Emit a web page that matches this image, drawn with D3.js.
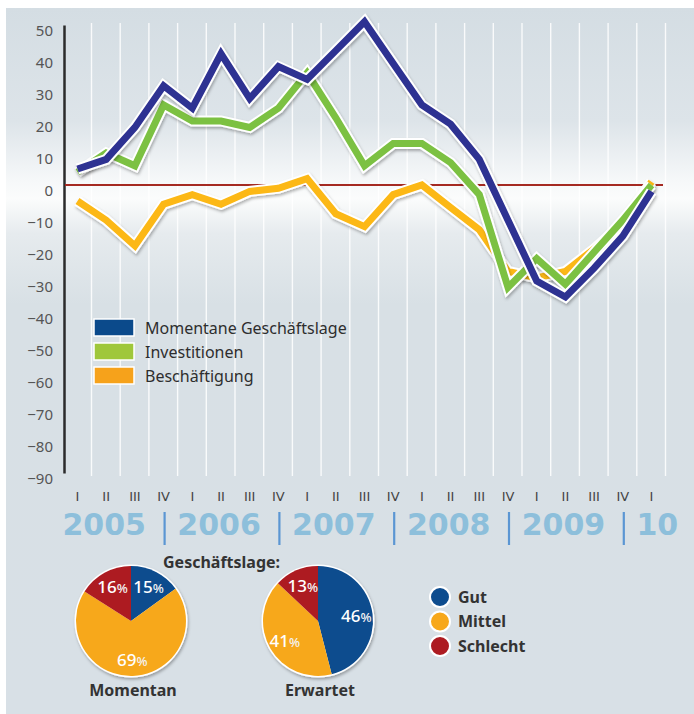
<!DOCTYPE html>
<html lang="de">
<head>
<meta charset="UTF-8">
<title>Geschäftslage</title>
<script src="https://d3js.org/d3.v7.min.js"></script>
<style>
  body { margin: 0; background: #fff; }
  svg { display: block; font-family: "Noto Sans", sans-serif; }
</style>
</head>
<body>
<script>
  // --- data ---
  var quarters = ["I","II","III","IV","I","II","III","IV","I","II","III","IV","I","II","III","IV","I","II","III","IV","I"];
  var years = ["2005","2006","2007","2008","2009","10"];
  var yTicks = [50,40,30,20,10,0,-10,-20,-30,-40,-50,-60,-70,-80,-90];
  var momentane = [5,8,18,31,24,41,27,37,33,42,51,38,25,19,8,-11,-30,-35,-26,-16,-2];
  var investitionen = [4,10,6,25,20,20,18,24,35,21,6,13,13,7,-3,-32,-23,-31,-21,-11,0];
  var beschaeftigung = [-5,-11,-19,-6,-3,-6,-2,-1,2,-9,-13,-3,0,-7,-14,-27,-29,-27,-20,-12,1];
  var seriesNames = ["Momentane Geschäftslage","Investitionen","Beschäftigung"];
  var pieCategories = ["Gut","Mittel","Schlecht"];
  var momentan = [15,69,16];
  var erwartet = [46,41,13];

  var width = 694, height = 714;
  var lineColors = ["#2e3192","#7cc143","#fcb814"];
  var legendColors = ["#0b4a8b","#9fc73a","#f6a21b"];
  var pieColors = ["#0d4c8e","#f7a81b","#ad1b21"];

  var svg = d3.select("body").append("svg")
    .attr("width", width)
    .attr("height", height);

  var defs = svg.append("defs");
  var grad = defs.append("linearGradient")
    .attr("id", "bg")
    .attr("x1", 0).attr("y1", 0).attr("x2", 0).attr("y2", 1);
  [[0,"#d4dde3"],[0.16,"#dde4e9"],[0.245,"#f6f8f9"],[0.27,"#fbfcfc"],[0.32,"#e6ebee"],[0.42,"#d8e0e5"],[1,"#d8e0e6"]]
    .forEach(s => grad.append("stop").attr("offset", s[0]).attr("stop-color", s[1]));

  var shadow = defs.append("filter").attr("id", "shadow")
    .attr("x", "-10%").attr("y", "-10%").attr("width", "120%").attr("height", "130%");
  shadow.append("feDropShadow")
    .attr("dx", 1).attr("dy", 2).attr("stdDeviation", 1.8)
    .attr("flood-color", "#000").attr("flood-opacity", 0.3);

  svg.append("rect")
    .attr("x", 6).attr("y", 8)
    .attr("width", width - 6).attr("height", height - 8)
    .attr("fill", "url(#bg)");

  // --- scales ---
  var x = d3.scaleLinear().domain([0, quarters.length - 1]).range([77.5, 651.5]);
  var y = d3.scaleLinear().domain([-90, 50]).range([473, 25]);

  // vertical grid lines
  svg.append("g").selectAll("line")
    .data(quarters)
    .join("line")
    .attr("x1", (d, i) => x(i) + 14)
    .attr("x2", (d, i) => x(i) + 14)
    .attr("y1", 23)
    .attr("y2", 476)
    .attr("stroke", "#fff")
    .attr("stroke-opacity", 0.85)
    .attr("stroke-width", 1.4);

  // y axis
  var yAxis = svg.append("g")
    .attr("transform", "translate(64,0)")
    .call(d3.axisLeft(y).tickValues(yTicks).tickSize(0).tickPadding(11).tickFormat(d3.format("d")));
  yAxis.select(".domain")
    .attr("stroke", "#2b2b2b")
    .attr("stroke-width", 2.5);
  yAxis.selectAll("text")
    .attr("dy", "0.32em")
    .attr("y", 6)
    .attr("fill", "#555")
    .style("font-size", "15px")
    .style("font-family", "Noto Sans, sans-serif");

  // zero line
  svg.append("line")
    .attr("x1", 65).attr("x2", 663)
    .attr("y1", y(0)).attr("y2", y(0))
    .attr("stroke", "#a52a22")
    .attr("stroke-width", 2);

  // lines
  var line = d3.line()
    .x((d, i) => x(i))
    .y(d => y(d))
    .curve(d3.curveLinear);

  var seriesData = [beschaeftigung, investitionen, momentane];
  var seriesCol = [lineColors[2], lineColors[1], lineColors[0]];
  seriesData.forEach((s, k) => {
    var g = svg.append("g").attr("filter", "url(#shadow)");
    g.append("path")
      .datum(s)
      .attr("d", line)
      .attr("fill", "none")
      .attr("stroke", "#fff")
      .attr("stroke-width", 11)
      .attr("stroke-linejoin", "miter");
    g.append("path")
      .datum(s)
      .attr("d", line)
      .attr("fill", "none")
      .attr("stroke", seriesCol[k])
      .attr("stroke-width", 7)
      .attr("stroke-linejoin", "miter");
  });

  // legend
  var legend = svg.append("g").attr("transform", "translate(94,319)");
  seriesNames.forEach((name, i) => {
    legend.append("rect")
      .attr("x", 0).attr("y", i * 24)
      .attr("width", 40).attr("height", 17)
      .attr("fill", legendColors[i])
      .attr("stroke", "#fff")
      .attr("stroke-width", 1.5);
    legend.append("text")
      .attr("x", 51).attr("y", i * 24 + 9)
      .attr("dy", "0.36em")
      .attr("fill", "#2e2e2e")
      .style("font-size", "16px")
      .text(name);
  });

  // quarter labels
  svg.append("g").selectAll("text")
    .data(quarters)
    .join("text")
    .attr("x", (d, i) => x(i))
    .attr("y", 496)
    .attr("dy", "0.35em")
    .attr("text-anchor", "middle")
    .attr("fill", "#444")
    .style("font-family", "DejaVu Sans, sans-serif")
    .style("font-size", "13px")
    .text(d => d);

  // year labels and separators
  years.forEach((yr, k) => {
    svg.append("text")
      .attr("x", x(k * 4) - 15)
      .attr("y", 535)
      .attr("fill", "#8dbfdb")
      .style("font-family", "DejaVu Sans, sans-serif")
      .style("font-size", "30px")
      .style("font-weight", "bold")
      .text(yr);
    if (k > 0) {
      svg.append("line")
        .attr("x1", x(k * 4 - 1) + 1).attr("x2", x(k * 4 - 1) + 1)
        .attr("y1", 512).attr("y2", 545)
        .attr("stroke", "#5b96d3")
        .attr("stroke-width", 2.2);
    }
  });

  // pies
  svg.append("text")
    .attr("x", 163).attr("y", 562)
    .attr("dy", "0.35em")
    .attr("fill", "#333")
    .style("font-size", "16px")
    .style("font-weight", "bold")
    .text("Geschäftslage:");

  var pie = d3.pie().sort(null).value(d => d);
  var r = 55;
  var arc = d3.arc().innerRadius(0).outerRadius(r);
  var labelArc = d3.arc().innerRadius(r * 0.7).outerRadius(r * 0.7);

  [[momentan, 131, "Momentan"], [erwartet, 318, "Erwartet"]].forEach(p => {
    var g = svg.append("g").attr("transform", `translate(${p[1]},621)`);
    g.append("circle")
      .attr("r", r + 1.5)
      .attr("fill", "#fff")
      .attr("filter", "url(#shadow)");
    g.selectAll("path")
      .data(pie(p[0]))
      .join("path")
      .attr("d", arc)
      .attr("fill", (d, i) => pieColors[i]);
    var lbl = g.selectAll("text.val")
      .data(pie(p[0]))
      .join("text")
      .attr("class", "val")
      .attr("transform", d => `translate(${labelArc.centroid(d)})`)
      .attr("text-anchor", "middle")
      .attr("dy", "0.36em")
      .attr("fill", "#fff")
      .style("font-size", "17px")
      .style("font-weight", "500");
    lbl.append("tspan").text(d => d.data);
    lbl.append("tspan").style("font-size", "13px").attr("fill", "#f3f3f3").text("%");
    svg.append("text")
      .attr("x", p[1] + 2).attr("y", 690)
      .attr("dy", "0.35em")
      .attr("text-anchor", "middle")
      .attr("fill", "#333")
      .style("font-size", "16px")
      .style("font-weight", "bold")
      .text(p[2]);
  });

  // pie legend
  var pl = svg.append("g").attr("transform", "translate(440,597)");
  pieCategories.forEach((c, i) => {
    pl.append("circle")
      .attr("cx", 0).attr("cy", i * 24.5)
      .attr("r", 10)
      .attr("fill", pieColors[i])
      .attr("stroke", "#fff")
      .attr("stroke-width", 2);
    pl.append("text")
      .attr("x", 18).attr("y", i * 24.5)
      .attr("dy", "0.36em")
      .attr("fill", "#333")
      .style("font-size", "16px")
      .style("font-weight", "bold")
      .text(c);
  });
</script>
</body>
</html>
